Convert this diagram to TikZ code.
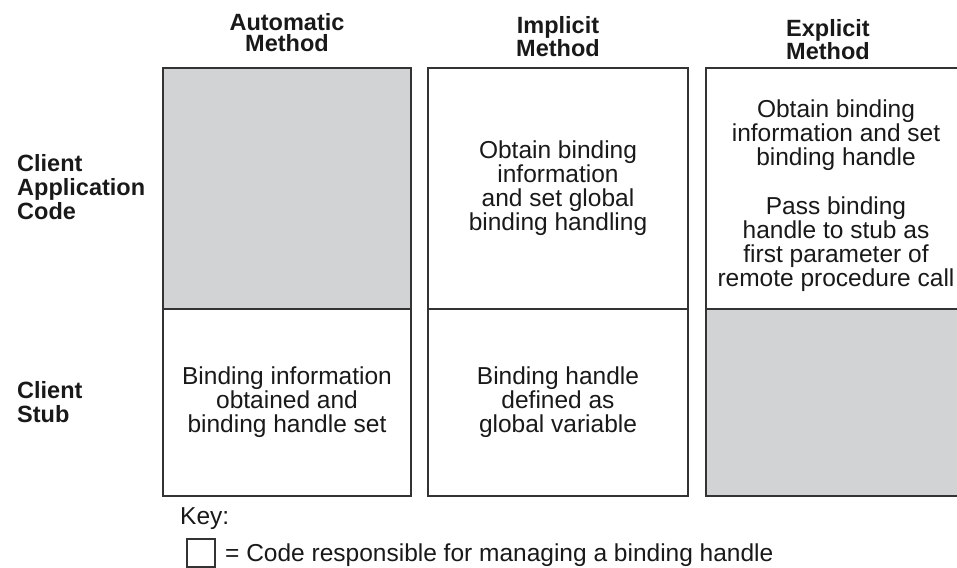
\documentclass[tikz,border=0pt]{standalone}
\usepackage{fontspec}
\setmainfont{Liberation Sans}
\usepackage{tikz}
\definecolor{shade}{HTML}{D1D3D4}
\definecolor{rule}{HTML}{333333}
\tikzset{
    every node/.style={inner sep=0mm, align=center, text=black!90, font=\fontsize{24.5}{24}\selectfont}
}
\tikzset{cell/.style={rectangle, draw=rule, line width=1.8pt}}
\tikzset{head/.style={anchor=north, font=\fontsize{23.5}{21.5}\selectfont\bfseries}}
\tikzset{side/.style={anchor=north west, align=left, font=\fontsize{23.5}{24}\selectfont\bfseries}}

\begin{document}
\begin{tikzpicture}[x=1pt, y=-1pt]
    \useasboundingbox (0, 0) rectangle (957, 567);

    \node (hauto) [head] at (287, 13) {Automatic\\Method};
    \node (himpl) [head] at (558, 16) {Implicit\\Method};
    \node (hexpl) [head] at (828, 19) {Explicit\\Method};

    \node (app) [side] at (17, 154) {Client\\Application\\Code};
    \node (stub) [side] at (17, 381) {Client\\Stub};

    \node (auto1) [cell, fill=shade, minimum width=248, minimum height=241] at (287, 188.5) {};
    \node (auto2) [cell, minimum width=248, minimum height=187] at (287, 402.5) {Binding information\\obtained and\\binding handle set};
    \node (impl1) [cell, minimum width=260, minimum height=241] at (558, 188.5) {Obtain binding\\information\\and set global\\binding handling};
    \node (impl2) [cell, minimum width=260, minimum height=187] at (558, 402.5) {Binding handle\\defined as\\global variable};
    \node (expl1) [cell, minimum width=260, minimum height=241] at (836, 188.5) {};
    \node (expl2) [cell, fill=shade, minimum width=260, minimum height=187] at (836, 402.5) {};
    \node (expltext) at (836, 196) {Obtain binding\\information and set\\binding handle\\[25pt]Pass binding\\handle to stub as\\first parameter of\\remote procedure call};

    \node (key) [anchor=base west] at (180, 524) {Key:};
    \node (keybox) [cell, minimum size=28] at (201, 553) {};
    \node (keytext) [anchor=base west] at (225, 561) {= Code responsible for managing a binding handle};
\end{tikzpicture}
\end{document}
